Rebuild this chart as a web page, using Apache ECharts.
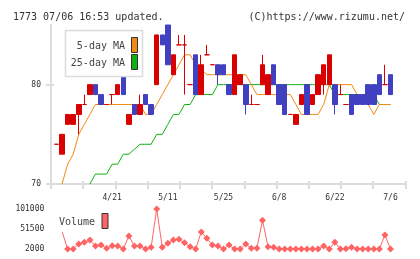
<!DOCTYPE html>
<html><head><meta charset="utf-8">
<script src="https://cdn.jsdelivr.net/npm/echarts@6/dist/echarts.min.js"></script>
<style>html,body{margin:0;padding:0;background:#fff}#c{width:420px;height:259px}</style>
</head><body><div id="c"></div>
<script>
const dates = ['4/7','4/8','4/11','4/12','4/13','4/14','4/15','4/18','4/19','4/20','4/21','4/22','4/25','4/26','4/27','4/28',
 '5/2','5/6','5/9','5/10','5/11','5/12','5/13','5/16','5/17','5/18','5/19','5/20','5/23','5/24','5/25','5/26','5/27','5/30','5/31',
 '6/1','6/2','6/3','6/6','6/7','6/8','6/9','6/10','6/13','6/14','6/15','6/16','6/17','6/20','6/21','6/22','6/23','6/24','6/27','6/28','6/29','6/30',
 '7/1','7/4','7/5','7/6'];
const tickLabels = ['4/21','5/11','5/25','6/8','6/22','7/6'];
const priceTicks = [70, 80];
const volumeTicks = [2000, 51500, 101000];

const openP  = [74,73,76,76,77,78,79,80,79,78,79,79,81,76,78,77,79,78,80,85,86,81,84,84,80,83,79,83,82,82,82,80,79,80,80,78,78,80,79,82,80,80,77,76,78,80,78,79,80,80,80,79,78,79,79,79,80,80,81,80,81];
const closeP = [74,75,77,77,78,78,80,79,78,78,79,80,79,77,77,78,78,77,85,84,82,83,84,84,80,79,82,83,82,81,81,79,83,81,78,78,78,82,81,80,78,77,77,77,79,77,79,81,82,83,78,79,78,77,78,78,78,78,79,80,79];
const lowP   = [74,73,76,76,75,78,79,79,78,78,78,79,79,76,77,77,78,77,80,84,82,81,84,79,80,79,79,83,82,80,81,79,79,80,77,78,78,80,79,80,78,77,77,76,78,77,78,79,79,80,77,79,78,77,78,78,78,78,79,80,79];
const highP  = [74,75,77,77,78,79,80,80,79,78,79,80,81,77,78,79,79,78,85,85,86,83,85,85,80,83,83,84,82,82,82,80,83,81,80,79,78,83,81,82,80,80,77,77,79,80,79,81,82,83,80,80,78,79,79,79,80,80,81,82,81];

const ma5  = [null,70,72,73,75,76,77,78,78,78,78,78,78,78,78,78,77,77,78,79,80,81,82,83,83,82,81.5,81,81,81,81,81,81,81,81,80,79,79,79,79,79,79,79,78,77,77,77,77,78,80,80,80,80,80,79,79,78,77,78,78,78];
const ma25 = [null,null,null,null,null,null,70,71,71,71,72,72,73,73,73.5,74,74,74,75,75,76,77,77,78,78,79,79,79,79,80,80,80,80,80,80,80,80,80,80,80,80,80,80,80,80,80,80,80,80,80,79,79,79,79,79,79,79,79,78,78,78];
const volume = [null,45000,2000,2000,14400,18600,24300,9400,11900,3700,10200,9400,2000,34200,9400,9400,2000,6200,101000,6200,16100,24300,26000,17600,7700,2000,44100,28500,11900,9400,2000,11900,2000,2000,14400,3700,3700,73000,7700,6200,2000,2000,2000,2000,2000,2000,2000,2000,9400,2000,18600,2000,2700,6200,2000,2000,2000,2000,2000,36700,2000];

const FONT = '"DejaVu Sans Mono", monospace';
const AX = '#dcdcdc';
const RED = '#d80000', BLUE = '#4040c0', ORANGE = '#f08a10', GREEN = '#10b010', VOL = '#ff6464';
const TXT = '#333';

const ohlc = dates.map((d, i) => [openP[i], closeP[i], lowP[i], highP[i]]);
const volData = [];
volume.forEach((v, i) => { if (v != null) volData.push([i, v]); });

const chart = echarts.init(document.getElementById('c'), null, {renderer: 'canvas'});
chart.setOption({
  animation: false,
  backgroundColor: '#fff',
  textStyle: {fontFamily: FONT},
  title: [
    {text: '1773 07/06 16:53 updated.', left: 8, top: 7, textStyle: {fontFamily: FONT, fontSize: 10, fontWeight: 'normal', color: TXT}},
    {text: '(C)https://www.rizumu.net/', right: 10, top: 7, textStyle: {fontFamily: FONT, fontSize: 10, fontWeight: 'normal', color: TXT}}
  ],
  grid: [
    {left: 56.5, right: 29.5, top: 25, height: 159},
    {left: 51, right: 14.7, top: 25, height: 159},
    {left: 63.3, right: 29.5, top: 209, height: 40}
  ],
  xAxis: [
    {type: 'category', gridIndex: 0, data: dates, boundaryGap: false, position: 'bottom',
     axisLine: {show: false}, axisTick: {show: false}, splitLine: {show: false},
     axisLabel: {interval: (i, v) => tickLabels.includes(v), margin: 10, fontSize: 8, color: TXT, fontFamily: FONT}},
    {type: 'value', gridIndex: 1, min: 0, max: 11, interval: 1, position: 'bottom',
     axisLine: {show: true, lineStyle: {color: AX, width: 2}}, axisTick: {show: true, length: 5, lineStyle: {color: AX, width: 2}},
     axisLabel: {show: false}, splitLine: {show: false}},
    {type: 'value', gridIndex: 1, min: 0, max: 11, interval: 1, position: 'bottom',
     axisLine: {show: false}, axisTick: {show: true, inside: true, length: 3, lineStyle: {color: AX, width: 2}},
     axisLabel: {show: false}, splitLine: {show: false}},
    {type: 'value', gridIndex: 2, min: 1.22, max: 60, position: 'bottom',
     axisLine: {show: false}, axisTick: {show: false}, axisLabel: {show: false}, splitLine: {show: false}}
  ],
  yAxis: [
    {type: 'value', gridIndex: 0, min: 70, max: 86, show: false, splitLine: {show: false}},
    {type: 'value', gridIndex: 1, min: 70, max: 86, position: 'left',
     axisLine: {show: true, lineStyle: {color: AX, width: 2}},
     axisTick: {show: true, length: 5, customValues: priceTicks, lineStyle: {color: AX, width: 2}},
     axisLabel: {show: true, customValues: priceTicks, margin: 10, fontSize: 8, color: TXT, fontFamily: FONT},
     splitLine: {show: false}},
    {type: 'value', gridIndex: 1, min: 70, max: 86, position: 'left',
     axisLine: {show: false},
     axisTick: {show: true, inside: true, length: 3, customValues: priceTicks, lineStyle: {color: AX, width: 2}},
     axisLabel: {show: false}, splitLine: {show: false}},
    {type: 'value', gridIndex: 2, min: 2000, max: 101000, position: 'left',
     axisLine: {show: false}, axisTick: {show: false}, splitLine: {show: false},
     axisLabel: {show: true, customValues: volumeTicks, formatter: v => String(v), margin: 19, fontSize: 8, color: TXT, fontFamily: FONT}}
  ],
  series: [
    {type: 'line', name: '25-day MA', xAxisIndex: 0, yAxisIndex: 0, data: ma25, symbol: 'none', z: 2,
     lineStyle: {color: GREEN, width: 1}, itemStyle: {color: GREEN}},
    {type: 'line', name: '5-day MA', xAxisIndex: 0, yAxisIndex: 0, data: ma5, symbol: 'none', z: 2,
     lineStyle: {color: ORANGE, width: 1}, itemStyle: {color: ORANGE}},
    {type: 'candlestick', xAxisIndex: 0, yAxisIndex: 0, data: ohlc, barWidth: 5, clip: false, z: 3,
     itemStyle: {color: RED, color0: BLUE, borderColor: RED, borderColor0: BLUE, borderColorDoji: RED, borderWidth: 1}},
    {type: 'line', name: 'Volume', xAxisIndex: 3, yAxisIndex: 3, data: volData, symbol: 'diamond', symbolSize: 7,
     lineStyle: {color: VOL, width: 1}, itemStyle: {color: VOL}, clip: true}
  ],
  graphic: [
    {type: 'rect', shape: {x: 65.5, y: 30.5, width: 77, height: 46}, style: {fill: '#fff', stroke: '#dcdcdc', lineWidth: 1.5}, z: 10},
    {type: 'text', x: 125, y: 46, style: {text: '5-day MA', align: 'right', verticalAlign: 'middle', font: '10px "DejaVu Sans Mono"', fill: '#444'}, z: 11},
    {type: 'text', x: 125, y: 63.5, style: {text: '25-day MA', align: 'right', verticalAlign: 'middle', font: '10px "DejaVu Sans Mono"', fill: '#444'}, z: 11},
    {type: 'rect', shape: {x: 131.5, y: 37.5, width: 6, height: 15}, style: {fill: ORANGE, stroke: '#333', lineWidth: 1}, z: 11},
    {type: 'rect', shape: {x: 131.5, y: 54.5, width: 6, height: 15}, style: {fill: GREEN, stroke: '#333', lineWidth: 1}, z: 11},
    {type: 'text', x: 59, y: 222.5, style: {text: 'Volume', align: 'left', verticalAlign: 'middle', font: '10px "DejaVu Sans Mono"', fill: '#444'}, z: 11},
    {type: 'rect', shape: {x: 102, y: 213.5, width: 6, height: 15}, style: {fill: VOL, stroke: '#333', lineWidth: 1}, z: 11}
  ]
});
</script>
</body></html>
